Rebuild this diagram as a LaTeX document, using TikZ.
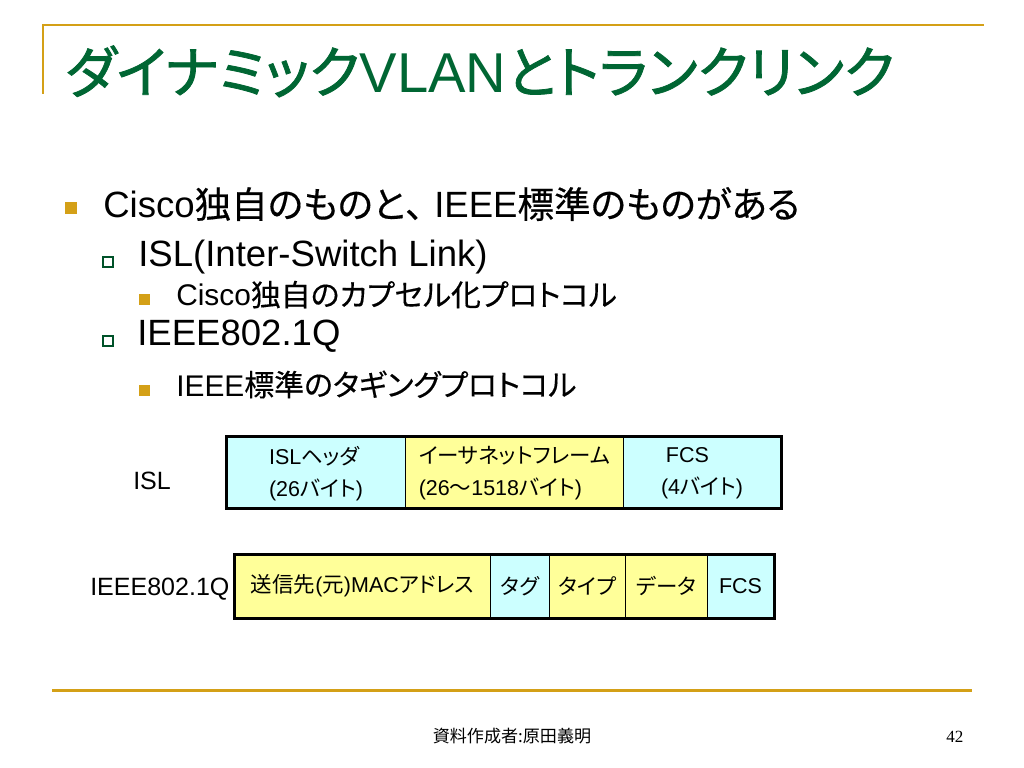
\documentclass[tikz,border=0pt]{standalone}
\usepackage{fontspec}
\setmainfont{Liberation Sans}
\newfontfamily\jp{Noto Sans CJK JP}[RawFeature=+palt, FakeBold=0.4]
\newfontfamily\jpfull{Noto Sans CJK JP}[FakeBold=0.4]
\newfontfamily\jpbox{Noto Sans CJK JP}[RawFeature=+palt]
\newfontfamily\jptitle{Noto Sans CJK JP}[RawFeature=+palt, FakeBold=1.4]
\newfontfamily\jpfoot{Noto Sans CJK JP}
\newfontfamily\numfont{Liberation Serif}
\definecolor{slidegold}{RGB}{212,160,23}
\definecolor{titlegreen}{RGB}{0,102,51}
\definecolor{cellcyan}{RGB}{204,255,255}
\definecolor{cellyellow}{RGB}{255,255,153}
\newcommand\pxu{0.703125pt}
\newcommand\lvla{\fontsize{25.7pt}{30pt}\selectfont}
\newcommand\lvlc{\fontsize{21pt}{24pt}\selectfont}
\tikzset{
  goldline/.style={draw=slidegold, line width=2*\pxu},
  fillsq/.style={fill=slidegold, inner sep=0pt, minimum size=#1*\pxu},
  hollowsq/.style={draw=titlegreen!80!black, fill=white, line width=1.6*\pxu, inner sep=0pt, minimum size=10*\pxu},
  item/.style={anchor=base west, inner sep=0pt},
  cell/.style={draw=black, line width=1*\pxu, anchor=north west, inner sep=0pt},
  celltext/.style={inner sep=0pt, align=left, font=\fontsize{15.1pt}{22.5pt}\selectfont},
}
\begin{document}
\begin{tikzpicture}[x=0.703125pt, y=-0.703125pt]
        \useasboundingbox[fill=white] (0,0) rectangle (1024,768);

        % Title frame and title
        \draw[goldline] (43,94) -- (43,25) -- (984,25);
        \node[item, text=titlegreen, font=\fontsize{39.5pt}{44pt}\selectfont] (title) at (65,93) {{\jptitle ダイナミック}VLAN{\jptitle とトランクリンク}};

        % Bullet list
        \node[fillsq=12] (b1) at (71,208) {};
        \node[item, font=\lvla] (cisco) at (103,218) {Cisco{\jp 独自のものと}{\jpfull 、}\kern-0.2em IEEE{\jp 標準のものがある}};
        \node[hollowsq] (b2) at (108,262) {};
        \node[item, font=\lvla] (isl) at (138,267) {ISL(Inter-Switch Link)};
        \node[fillsq=11] (b3) at (144,300) {};
        \node[item, font=\lvlc] (islnote) at (176,306) {Cisco{\jp 独自のカプセル化プロトコル}};
        \node[hollowsq] (b4) at (108,341) {};
        \node[item, font=\lvla] (dotq) at (137,346) {IEEE802.1Q};
        \node[fillsq=11] (b5) at (144,390) {};
        \node[item, font=\lvlc] (dotqnote) at (176,396) {IEEE{\jp 標準のタギングプロトコル}};

        % ISL frame
        \node[item, font=\fontsize{17.6pt}{20pt}\selectfont] (isllabel) at (133,489) {ISL};
        \node[cell, fill=cellcyan, minimum width=179*\pxu, minimum height=71*\pxu] (islhdr) at (226,436) {};
        \node[cell, fill=cellyellow, minimum width=218*\pxu, minimum height=71*\pxu] (islframe) at (405,436) {};
        \node[cell, fill=cellcyan, minimum width=157*\pxu, minimum height=71*\pxu] (islfcs) at (623,436) {};
        \draw[line width=3*\pxu] (islhdr.north west) rectangle (islfcs.south east);
        \node[celltext] (islhdrtxt) at ([yshift=-1.5*\pxu]islhdr.center) {ISL{\jpbox ヘッダ}\\(26{\jpbox バイト})};
        \node[celltext] (islframetxt) at ([yshift=-1.5*\pxu]islframe.center) {{\jpbox イーサネットフレーム}\\(26{\jpbox 〜}1518{\jpbox バイト})};
        \node[celltext] (islfcstxt) at ([yshift=-1.5*\pxu]islfcs.center) {\hspace{3.5pt}FCS\\(4{\jpbox バイト})};

        % IEEE802.1Q frame
        \node[item, font=\fontsize{17.6pt}{20pt}\selectfont] (dotqlabel) at (90,595) {IEEE802.1Q};
        \node[cell, fill=cellyellow, minimum width=256*\pxu, minimum height=63*\pxu] (addr) at (234,554) {};
        \node[cell, fill=cellcyan, minimum width=59*\pxu, minimum height=63*\pxu] (tag) at (490,554) {};
        \node[cell, fill=cellyellow, minimum width=76*\pxu, minimum height=63*\pxu] (type) at (549,554) {};
        \node[cell, fill=cellyellow, minimum width=82*\pxu, minimum height=63*\pxu] (data) at (625,554) {};
        \node[cell, fill=cellcyan, minimum width=66*\pxu, minimum height=63*\pxu] (fcs) at (707,554) {};
        \draw[line width=3*\pxu] (addr.north west) rectangle (fcs.south east);
        \node[celltext] (addrtxt) at (addr.center) {{\jpbox 送信先}({\jpbox 元})MAC{\jpbox アドレス}};
        \node[celltext] (tagtxt) at (tag.center) {\jpbox タグ};
        \node[celltext] (typetxt) at (type.center) {\jpbox タイプ};
        \node[celltext] (datatxt) at (data.center) {\jpbox データ};
        \node[celltext] (fcstxt) at (fcs.center) {FCS};

        % Footer
        \draw[goldline, line width=3*\pxu] (52,690) -- (972,690);
        \node[anchor=base, inner sep=0pt, font=\jpfoot\fontsize{12pt}{14pt}\selectfont] (author) at (512,742) {資料作成者:原田義明};
        \node[item, font=\numfont\fontsize{12pt}{14pt}\selectfont] (pageno) at (946,742) {42};

    \end{tikzpicture}
\end{document}
